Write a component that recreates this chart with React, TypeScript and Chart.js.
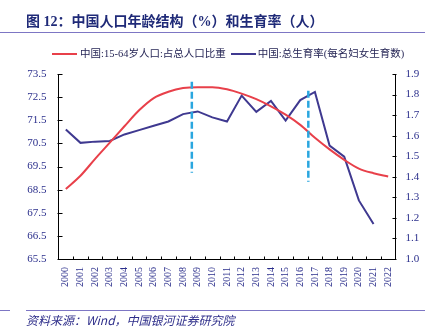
import React, { useEffect, useRef } from "react";
import { Chart, registerables } from "chart.js";

Chart.register(...registerables);

const years = ["2000","2001","2002","2003","2004","2005","2006","2007","2008","2009","2010","2011","2012","2013","2014","2015","2016","2017","2018","2019","2020","2021","2022"];
const workingAgeShare = [68.53, 69.1, 69.83, 70.53, 71.24, 71.93, 72.46, 72.73, 72.89, 72.93, 72.93, 72.84, 72.65, 72.41, 72.1, 71.74, 71.3, 70.74, 70.24, 69.79, 69.41, 69.21, 69.07];
const fertilityRate = [1.63, 1.565, 1.571, 1.574, 1.606, 1.627, 1.648, 1.669, 1.705, 1.718, 1.689, 1.669, 1.795, 1.716, 1.769, 1.673, 1.773, 1.813, 1.552, 1.498, 1.285, 1.17, null];
const markerIndex = [8.6, 16.55];
const markerTop = [73.17, 72.78];
const markerBottom = [69.23, 68.84];

const NAVY = "#2b2f8c";
const RED = "#e8404a";
const PURPLE = "#3f3990";
const CYAN = "#2aa6df";
const SERIF = "'Liberation Serif', 'Times New Roman', serif";
const MIXED = "'Liberation Serif', 'Noto Sans CJK SC', serif";
const CJK = "'Noto Sans CJK SC', sans-serif";

const decorPlugin = {
  id: "decor",
  afterDatasetsDraw(chart: any) {
    const ctx = chart.ctx;
    const x = chart.scales.x;
    const y = chart.scales.y;
    const y1 = chart.scales.y1;
    ctx.save();
    ctx.strokeStyle = CYAN;
    ctx.lineWidth = 2.5;
    ctx.setLineDash([7, 3]);
    markerIndex.forEach((mi, k) => {
      const i0 = Math.floor(mi);
      const f = mi - i0;
      const px = x.getPixelForValue(i0) * (1 - f) + x.getPixelForValue(i0 + 1) * f;
      ctx.beginPath();
      ctx.moveTo(px, y.getPixelForValue(markerTop[k]));
      ctx.lineTo(px, y.getPixelForValue(markerBottom[k]));
      ctx.stroke();
    });
    ctx.setLineDash([]);
    ctx.strokeStyle = "#000";
    ctx.lineWidth = 1;
    const la = Math.round(y.right) + 0.5;
    y.ticks.forEach((t: any) => {
      const py = Math.round(y.getPixelForValue(t.value)) + 0.5;
      ctx.beginPath();
      ctx.moveTo(la - 2, py);
      ctx.lineTo(la + 3, py);
      ctx.stroke();
    });
    const ra = Math.round(y1.left) + 0.5;
    y1.ticks.forEach((t: any) => {
      const py = Math.round(y1.getPixelForValue(t.value)) + 0.5;
      ctx.beginPath();
      ctx.moveTo(ra - 4, py);
      ctx.lineTo(ra, py);
      ctx.stroke();
    });
    const by = Math.round(x.top) + 0.5;
    for (let i = 1; i < years.length; i++) {
      const px = Math.round((x.getPixelForValue(i - 1) + x.getPixelForValue(i)) / 2) + 0.5;
      ctx.beginPath();
      ctx.moveTo(px, by - 3);
      ctx.lineTo(px, by);
      ctx.stroke();
    }
    ctx.restore();
  },
};

export default function App() {
  const ref = useRef<HTMLCanvasElement>(null);
  useEffect(() => {
    const chart = new Chart(ref.current as HTMLCanvasElement, {
      type: "line",
      data: {
        labels: years,
        datasets: [
          {
            label: "中国:15-64岁人口:占总人口比重",
            data: workingAgeShare,
            borderColor: RED,
            borderWidth: 2,
            pointRadius: 0,
            cubicInterpolationMode: "monotone",
            yAxisID: "y",
          },
          {
            label: "中国:总生育率(每名妇女生育数)",
            data: fertilityRate as any,
            borderColor: PURPLE,
            borderWidth: 2,
            pointRadius: 0,
            tension: 0,
            yAxisID: "y1",
          },
        ],
      },
      options: {
        animation: false,
        responsive: false,
        layout: { padding: { top: 74, left: 0, right: 0, bottom: 0 } },
        plugins: { legend: { display: false }, tooltip: { enabled: false } },
        scales: {
          x: {
            type: "category",
            offset: true,
            grid: { display: false, drawTicks: false },
            border: { display: true, color: "#000", width: 1 },
            ticks: {
              color: NAVY,
              font: { family: SERIF, size: 10 },
              maxRotation: 90,
              minRotation: 90,
              padding: 8,
              autoSkip: false,
            },
            afterFit: (s: any) => { s.height = 73; },
          },
          y: {
            position: "left",
            min: 65.5,
            max: 73.5,
            grid: { display: false, drawTicks: false },
            border: { display: true, color: "#000", width: 1 },
            ticks: {
              stepSize: 1,
              color: NAVY,
              font: { family: SERIF, size: 11 },
              padding: 12,
              callback: (v: any) => Number(v).toFixed(1),
            },
            afterFit: (s: any) => { s.width = 58.5; },
          },
          y1: {
            position: "right",
            min: 1.0,
            max: 1.9,
            grid: { display: false, drawTicks: false },
            border: { display: true, color: "#000", width: 1 },
            ticks: {
              stepSize: 0.1,
              color: NAVY,
              font: { family: SERIF, size: 11 },
              padding: 10,
              callback: (v: any) => Number(v).toFixed(1),
            },
            afterFit: (s: any) => { s.width = 39.5; },
          },
        },
      },
      plugins: [decorPlugin],
    } as any);
    return () => chart.destroy();
  }, []);

  return (
    <div style={{ position: "absolute", left: 0, top: 0, width: 435, height: 332, background: "#fff", overflow: "hidden" }}>
      <canvas ref={ref} width={435} height={332} style={{ position: "absolute", left: 0, top: 0 }} />
      <div style={{ position: "absolute", left: 26, top: 13, fontFamily: MIXED, fontWeight: 700, fontSize: 14, color: "#1f2a78", whiteSpace: "nowrap", lineHeight: "18px" }}>
        图 12：中国人口年龄结构（%）和生育率（人）
      </div>
      <div style={{ position: "absolute", left: 0, top: 32, width: 425, height: 1, background: "#7d76c4" }} />
      <div style={{ position: "absolute", left: 52, top: 46, display: "flex", alignItems: "center", fontFamily: MIXED, fontSize: 10.5, color: "#262656", whiteSpace: "nowrap", lineHeight: "16px" }}>
        <span style={{ display: "inline-block", width: 25, height: 2, background: RED, marginRight: 3 }} />
        <span>中国:15-64岁人口:占总人口比重</span>
        <span style={{ display: "inline-block", width: 25, height: 2, background: PURPLE, marginLeft: 5, marginRight: 2 }} />
        <span>中国:总生育率(每名妇女生育数)</span>
      </div>
      <div style={{ position: "absolute", left: 0, top: 310, width: 10, height: 1, background: "#7d76c4" }} />
      <div style={{ position: "absolute", left: 26, top: 310, width: 399, height: 1, background: "#7d76c4" }} />
      <div style={{ position: "absolute", left: 26, top: 312, fontFamily: CJK, fontStyle: "italic", fontSize: 12, color: "#2e2e8a", whiteSpace: "nowrap", lineHeight: "16px" }}>
        资料来源：Wind，中国银河证券研究院
      </div>
    </div>
  );
}
